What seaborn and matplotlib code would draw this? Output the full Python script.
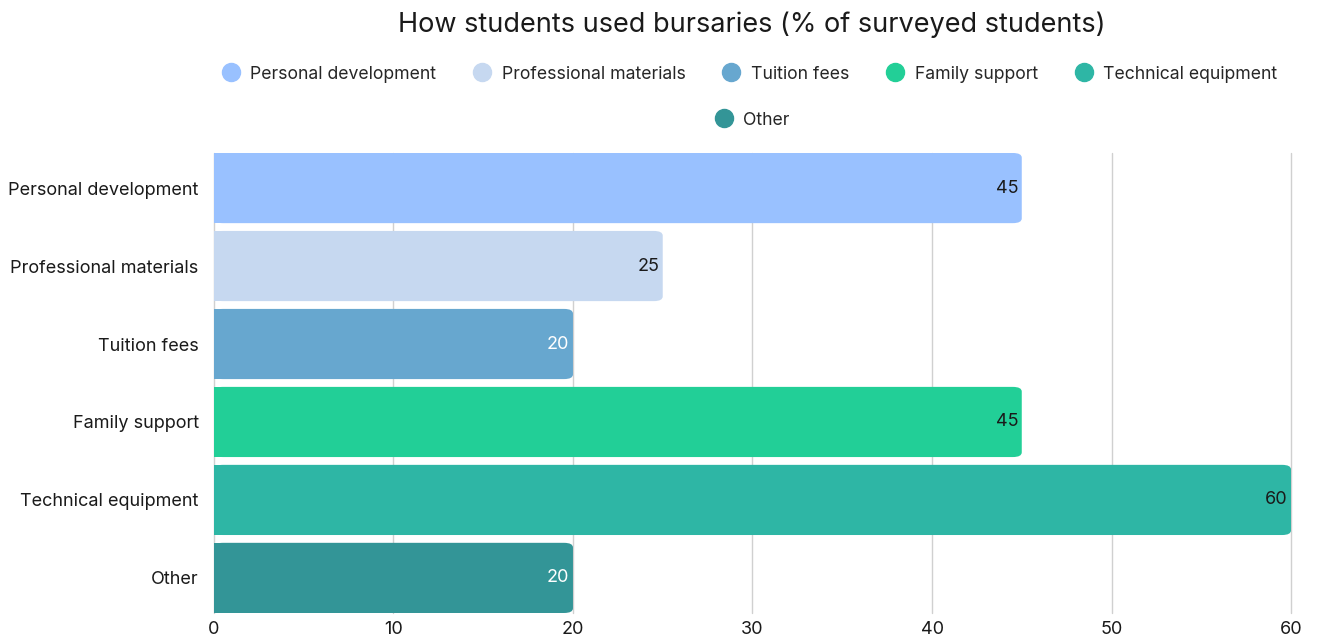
import matplotlib
matplotlib.use('Agg')
import matplotlib.pyplot as plt
import seaborn as sns
import pandas as pd
from matplotlib.lines import Line2D
from matplotlib.patches import FancyBboxPatch

# 数据
categories = ['Personal development', 'Professional materials', 'Tuition fees',
              'Family support', 'Technical equipment', 'Other']
values = [45, 25, 20, 45, 60, 20]
colors = ['#99C1FF', '#C6D8F0', '#67A7CF', '#22CF97', '#2EB6A5', '#339597']
label_colors = ['#1a1a1a', '#1a1a1a', 'white', '#1a1a1a', '#1a1a1a', 'white']

sns.set_style('white')
plt.rcParams['font.family'] = ['Inter', 'DejaVu Sans']

df = pd.DataFrame({'category': categories, 'value': values})

fig = plt.figure(figsize=(13.19, 6.39), dpi=100)
ax = fig.add_axes([0.1622, 0.0407, 0.9788 - 0.1622, 0.7606 - 0.0407])

sns.barplot(data=df, x='value', y='category', hue='category', palette=colors,
            width=0.9, legend=False, ax=ax, saturation=1)

# 圆角
for p in list(ax.patches):
    x0, y0 = p.get_x(), p.get_y()
    w, h = p.get_width(), p.get_height()
    fc = p.get_facecolor()
    p.remove()
    r = FancyBboxPatch((x0, y0), w, h, boxstyle='round,pad=0,rounding_size=0.5',
                       mutation_aspect=0.12, facecolor=fc, edgecolor='none', zorder=3)
    ax.add_patch(r)
    # 方的左边
    ax.add_patch(plt.Rectangle((x0, y0), w / 2, h, facecolor=fc, edgecolor='none', zorder=3))

for i, v in enumerate(values):
    ax.text(v - 0.2, i, str(v), ha='right', va='center', fontsize=13,
            color=label_colors[i], zorder=4)

ax.set_xlim(0, 60)
ax.set_ylim(5.45, -0.45)
ax.set_xticks(range(0, 61, 10))
ax.xaxis.grid(True, color='#d0d0d0', linewidth=1)
for gl in ax.get_xgridlines():
    gl.set_clip_on(False)
ax.set_axisbelow(True)
for s in ax.spines.values():
    s.set_visible(False)
ax.set_xlabel('')
ax.set_ylabel('')
ax.tick_params(axis='both', length=0, labelsize=13, colors='#1a1a1a')
ax.tick_params(axis='y', pad=11)
ax.tick_params(axis='x', pad=6)

fig.text(0.57, 0.962, 'How students used bursaries (% of surveyed students)',
         ha='center', va='center', fontsize=19.5, color='#1a1a1a')

handles = [Line2D([0], [0], marker='o', linestyle='', markersize=13,
                  markerfacecolor=c, markeredgecolor=c) for c in colors]
fig.legend(handles[:5], categories[:5], loc='center', ncol=5,
           bbox_to_anchor=(0.565, 0.884), frameon=False, fontsize=12.7,
           handletextpad=0.1, columnspacing=1.6)
fig.legend(handles[5:], categories[5:], loc='center', ncol=1,
           bbox_to_anchor=(0.567, 0.812), frameon=False, fontsize=12.7,
           handletextpad=0.1)

plt.savefig('out.png', dpi=100)
plt.close()
